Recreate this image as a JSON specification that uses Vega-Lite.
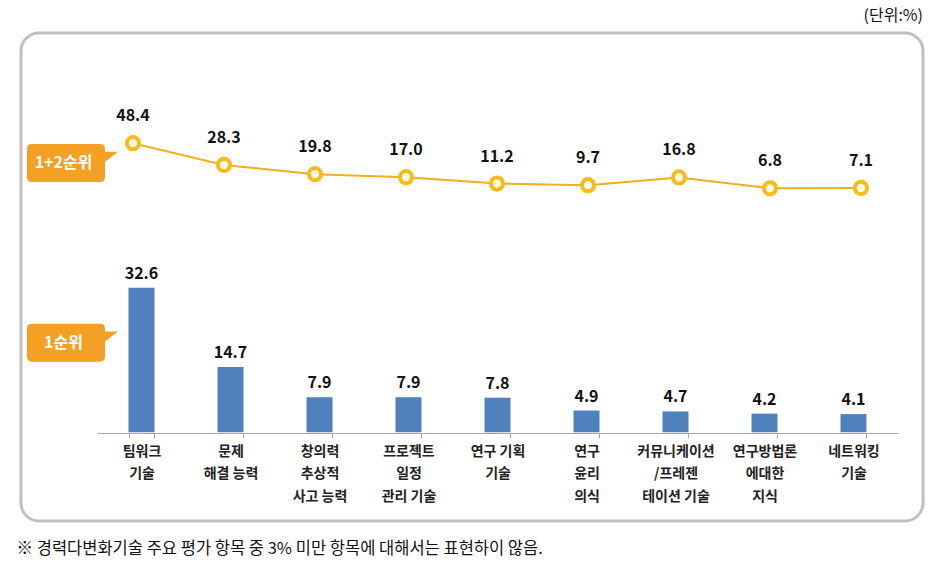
{
  "$schema": "https://vega.github.io/schema/vega-lite/v6.json",
  "width": 902,
  "height": 488,
  "autosize": {"type": "none"},
  "padding": {"left": 21, "top": 33, "right": 24, "bottom": 51},
  "background": "white",
  "title": {"text": "(단위:%)", "anchor": "end", "orient": "top", "offset": 9, "fontSize": 16, "fontWeight": "normal", "font": "Noto Sans CJK KR", "color": "#111111"},
  "config": {
    "view": {"stroke": "#BFBFBF", "strokeWidth": 3, "cornerRadius": 18},
    "font": "Noto Sans CJK KR"
  },
  "datasets": {
    "main": [
      {"cat": "팀워크|기술", "bar": 32.6, "line": 48.4},
      {"cat": "문제|해결 능력", "bar": 14.7, "line": 28.3},
      {"cat": "창의력|추상적|사고 능력", "bar": 7.9, "line": 19.8},
      {"cat": "프로젝트|일정|관리 기술", "bar": 7.9, "line": 17.0},
      {"cat": "연구 기획|기술", "bar": 7.8, "line": 11.2},
      {"cat": "연구|윤리|의식", "bar": 4.9, "line": 9.7},
      {"cat": "커뮤니케이션|/프레젠|테이션 기술", "bar": 4.7, "line": 16.8},
      {"cat": "연구방법론|에대한|지식", "bar": 4.2, "line": 6.8},
      {"cat": "네트워킹|기술", "bar": 4.1, "line": 7.1}
    ],
    "badges": [
      {"cat": "팀워크|기술", "val": 20.2, "label": "1순위"},
      {"cat": "팀워크|기술", "val": 60.7, "label": "1+2순위"}
    ]
  },
  "layer": [
    {
      "encoding": {
        "x": {
          "field": "cat", "type": "nominal", "sort": null,
          "scale": {
            "domain": ["팀워크|기술", "문제|해결 능력", "창의력|추상적|사고 능력", "프로젝트|일정|관리 기술", "연구 기획|기술", "연구|윤리|의식", "커뮤니케이션|/프레젠|테이션 기술", "연구방법론|에대한|지식", "네트워킹|기술"],
            "range": [76, 877], "paddingInner": 0.708, "paddingOuter": 0.354
          },
          "axis": {
            "orient": "bottom", "offset": -88,
            "labelExpr": "split(datum.label, '|')",
            "labelAngle": 0, "labelFontSize": 14, "labelFontWeight": "bold", "labelColor": "#222222",
            "labelLineHeight": 22.5, "labelPadding": 6, "labelFont": "Noto Sans CJK KR",
            "domainColor": "#A6A6A6", "domainWidth": 1,
            "tickColor": "#A6A6A6", "tickSize": 5, "tickBand": "extent",
            "title": "※ 경력다변화기술 주요 평가 항목 중 3% 미만 항목에 대해서는 표현하이 않음.",
            "titleX": -5, "titleY": 115, "titleAlign": "left", "titleBaseline": "middle", "titleAngle": 0,
            "titleFontSize": 16.5, "titleFontWeight": "normal", "titleColor": "#111111", "titleFont": "Noto Sans CJK KR"
          }
        }
      },
      "layer": [
        {
          "data": {"name": "main"},
          "mark": {"type": "bar", "color": "#4F81BD"},
          "encoding": {
            "y": {"field": "bar", "type": "quantitative", "scale": {"domain": [-19.8, 89.9]}, "axis": null}
          }
        },
        {
          "data": {"name": "main"},
          "mark": {"type": "text", "fontSize": 16, "fontWeight": "bold", "color": "#111111", "baseline": "alphabetic", "dy": -9},
          "encoding": {
            "y": {"field": "bar", "type": "quantitative"},
            "text": {"field": "bar", "type": "quantitative", "format": ".1f"}
          }
        },
        {
          "data": {"name": "badges"},
          "mark": {"type": "point", "shape": "M-2.7425,-0.475 L-1.0325,-0.475 Q-0.9125,-0.475 -0.9125,-0.355 L-0.9125,-0.28 L-0.5875,-0.28 L-0.9125,-0.03 L-0.9125,0.355 Q-0.9125,0.475 -1.0325,0.475 L-2.7425,0.475 Q-2.8625,0.475 -2.8625,0.355 L-2.8625,-0.355 Q-2.8625,-0.475 -2.7425,-0.475 Z", "size": 6400, "filled": true, "fill": "#F4A025", "opacity": 1, "strokeWidth": 0},
          "encoding": {
            "y": {"field": "val", "type": "quantitative"}
          }
        },
        {
          "data": {"name": "badges"},
          "mark": {"type": "text", "fontSize": 16, "fontWeight": "bold", "color": "white", "baseline": "middle", "dx": -78},
          "encoding": {
            "y": {"field": "val", "type": "quantitative"},
            "text": {"field": "label"}
          }
        }
      ]
    },
    {
      "encoding": {
        "x": {
          "field": "cat", "type": "nominal", "sort": null,
          "scale": {
            "type": "point",
            "domain": ["팀워크|기술", "문제|해결 능력", "창의력|추상적|사고 능력", "프로젝트|일정|관리 기술", "연구 기획|기술", "연구|윤리|의식", "커뮤니케이션|/프레젠|테이션 기술", "연구방법론|에대한|지식", "네트워킹|기술"],
            "range": [112, 840], "padding": 0
          },
          "axis": null
        }
      },
      "layer": [
        {
          "data": {"name": "main"},
          "mark": {"type": "line", "color": "#F2AE1C", "strokeWidth": 2},
          "encoding": {
            "y": {"field": "line", "type": "quantitative", "scale": {"domain": [-284.4, 144.9]}, "axis": null}
          }
        },
        {
          "data": {"name": "main"},
          "mark": {"type": "point", "filled": true, "fill": "#FFFBEA", "stroke": "#F7BC1C", "strokeWidth": 4, "size": 150, "opacity": 1},
          "encoding": {
            "y": {"field": "line", "type": "quantitative"}
          }
        },
        {
          "data": {"name": "main"},
          "mark": {"type": "text", "fontSize": 16, "fontWeight": "bold", "color": "#111111", "baseline": "alphabetic", "dy": -22},
          "encoding": {
            "y": {"field": "line", "type": "quantitative"},
            "text": {"field": "line", "type": "quantitative", "format": ".1f"}
          }
        }
      ]
    }
  ],
  "resolve": {"scale": {"x": "independent", "y": "independent"}, "axis": {"x": "independent"}}
}
